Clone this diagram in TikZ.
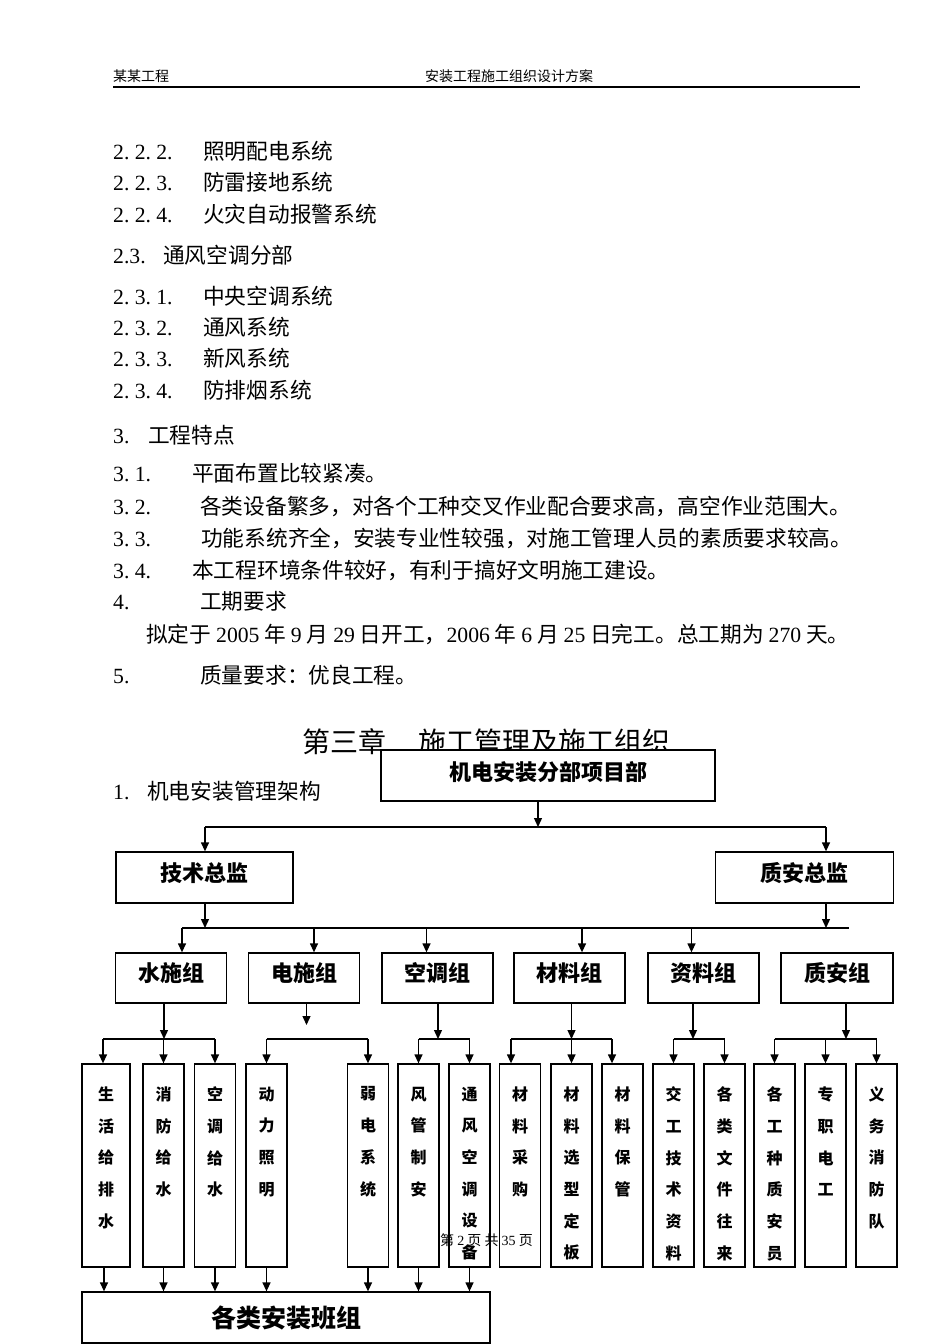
\documentclass[tikz,border=0pt]{standalone}
\usepackage{fontspec}
\setmainfont{Liberation Serif}
\newfontfamily\cjk{Noto Sans CJK SC}
\usetikzlibrary{arrows.meta}

\newcommand{\lnum}[1]{{\rmfamily #1}}
\newcommand{\secno}[1]{{\rmfamily\secnoloop#1\relax}}
\def\secnoloop#1{\ifx#1\relax\else\makebox[10.8pt][l]{#1}\expandafter\secnoloop\fi}
\newcommand{\vcol}[2][41pt]{\parbox[t][203pt][t]{#1}{\vspace*{22.8pt}\centering #2}}

\begin{document}
\begin{tikzpicture}[
      x=1pt, y=-1pt,
      txt/.style={anchor=west, inner sep=0,
                  font=\cjk\fontsize{21.7}{26}\selectfont},
      small/.style={anchor=west, inner sep=0,
                  font=\cjk\fontsize{14}{16}\selectfont},
      box/.style={draw, fill=white, line width=1.3pt, inner sep=0,
                  font=\cjk\bfseries\fontsize{22}{26}\selectfont},
      lead/.style={box, minimum width=177, minimum height=51, text depth=11.5pt},
      grp/.style={box, minimum width=111, minimum height=50, text depth=11.5pt},
      col/.style={draw, fill=white, line width=1.3pt, inner sep=0,
                  font=\cjk\bfseries\fontsize{16}{31.7}\selectfont},
      link/.style={line width=1.3pt},
      arr/.style={link, -{Triangle[width=8pt,length=9pt]}}
    ]
    \useasboundingbox (0,0) rectangle (950,1344);

    % page header
    \node[small] (hdl) at (113,76) {某某工程};
    \node[small] (hdr) at (425,76) {安装工程施工组织设计方案};
    \draw[line width=1.6pt] (113,87) -- (860,87);

    % text of the page
    \node[txt] (l1) at (113,151) {\makebox[90pt][l]{\secno{2.2.2.}}照明配电系统};
    \node[txt] (l2) at (113,182) {\makebox[90pt][l]{\secno{2.2.3.}}防雷接地系统};
    \node[txt] (l3) at (113,214) {\makebox[90pt][l]{\secno{2.2.4.}}火灾自动报警系统};
    \node[txt] (l4) at (113,255) {\makebox[50pt][l]{\lnum{2.3.}}通风空调分部};
    \node[txt] (l5) at (113,296) {\makebox[90pt][l]{\secno{2.3.1.}}中央空调系统};
    \node[txt] (l6) at (113,327) {\makebox[90pt][l]{\secno{2.3.2.}}通风系统};
    \node[txt] (l7) at (113,358) {\makebox[90pt][l]{\secno{2.3.3.}}新风系统};
    \node[txt] (l8) at (113,390) {\makebox[90pt][l]{\secno{2.3.4.}}防排烟系统};
    \node[txt] (l9) at (113,435) {\makebox[35pt][l]{\secno{3.}}工程特点};
    \node[txt] (l10) at (113,473) {\makebox[79pt][l]{\secno{3.1.}}平面布置比较紧凑。};
    \node[txt] (l11) at (113,506) {\makebox[87pt][l]{\secno{3.2.}}各类设备繁多，对各个工种交叉作业配合要求高，高空作业范围大。};
    \node[txt] (l12) at (113,538) {\makebox[88pt][l]{\secno{3.3.}}功能系统齐全，安装专业性较强，对施工管理人员的素质要求较高。};
    \node[txt] (l13) at (113,570) {\makebox[79pt][l]{\secno{3.4.}}本工程环境条件较好，有利于搞好文明施工建设。};
    \node[txt] (l14) at (113,601) {\makebox[87pt][l]{\secno{4.}}工期要求};
    \node[txt] (l15) at (146,634) {拟定于 \lnum{2005} 年 \lnum{9} 月 \lnum{29} 日开工，\lnum{2006} 年 \lnum{6} 月 \lnum{25} 日完工。总工期为 \lnum{270} 天。};
    \node[txt] (l16) at (113,675) {\makebox[87pt][l]{\secno{5.}}质量要求：优良工程。};

    \node[txt, font=\cjk\fontsize{28}{32}\selectfont] (chap) at (302,742)
      {\makebox[116pt][l]{第三章}施工管理及施工组织};
    \node[txt] (sub) at (113,791) {\makebox[34pt][l]{\lnum{1.}}机电安装管理架构};

    % management chart
    \node[box, minimum width=334, minimum height=51, text depth=9.5pt] (xm) at (548,775.5) {机电安装分部项目部};
    \node[lead] (js) at (204.5,877.5) {技术总监};
    \node[lead, minimum width=178] (za) at (804.5,877.5) {质安总监};

    \coordinate (b1l) at (205,827);
    \coordinate (b1r) at (826,827);
    \coordinate (b2l) at (182,928);
    \coordinate (b2r) at (849,928);
    \draw[arr] ([xshift=-10pt]xm.south) -- ([xshift=-10pt]xm.south |- b1l);
    \draw[link] (b1l) -- (b1r);
    \draw[arr] (b1l) -- (b1l |- js.north);
    \draw[arr] (b1r) -- (b1r |- za.north);
    \draw[arr] (b1l |- js.south) -- (b1l |- b2l);
    \draw[arr] (b1r |- za.south) -- (b1r |- b2l);
    \draw[link] (b2l) -- (b2r);

    \node[grp] (gs) at (171,978) {水施组};
    \node[grp] (gd) at (304,978) {电施组};
    \node[grp] (gk) at (437.5,978) {空调组};
    \node[grp] (gc) at (569.5,978) {材料组};
    \node[grp] (gz) at (703.5,978) {资料组};
    \node[grp, minimum width=112] (gq) at (837,978) {质安组};
    \foreach \g/\dx in {gs/11, gd/10, gk/-11, gc/12.5, gz/-12}
      \draw[arr] ([xshift=\dx pt]\g.north |- b2l) -- ([xshift=\dx pt]\g.north);

    \node[col] (v1) at (106,1165.5) {\vcol[48pt]{生\\活\\给\\排\\水}};
    \node[col] (v2) at (163.5,1165.5) {\vcol{消\\防\\给\\水}};
    \node[col] (v3) at (215,1165.5) {\vcol{空\\调\\给\\水}};
    \node[col] (v4) at (266.5,1165.5) {\vcol{动\\力\\照\\明}};
    \node[col] (v5) at (368,1165.5) {\vcol{弱\\电\\系\\统}};
    \node[col] (v6) at (418.5,1165.5) {\vcol{风\\管\\制\\安}};
    \node[col] (v7) at (469.5,1165.5) {\vcol{通\\风\\空\\调\\设\\备}};
    \node[col] (v8) at (520,1165.5) {\vcol{材\\料\\采\\购}};
    \node[col] (v9) at (571.5,1165.5) {\vcol{材\\料\\选\\型\\定\\板}};
    \node[col] (v10) at (622.5,1165.5) {\vcol{材\\料\\保\\管}};
    \node[col] (v11) at (673.5,1165.5) {\vcol{交\\工\\技\\术\\资\\料}};
    \node[col] (v12) at (724.5,1165.5) {\vcol{各\\类\\文\\件\\往\\来}};
    \node[col] (v13) at (774.5,1165.5) {\vcol{各\\工\\种\\质\\安\\员}};
    \node[col] (v14) at (825.5,1165.5) {\vcol{专\\职\\电\\工}};
    \node[col] (v15) at (876.5,1165.5) {\vcol{义\\务\\消\\防\\队}};

    % sub buses under the groups
    \coordinate (sb1l) at (103,1039);   \coordinate (sb1r) at (215,1039);
    \coordinate (sb2l) at (266.5,1039); \coordinate (sb2r) at (368,1039);
    \coordinate (sb3l) at (418.5,1039); \coordinate (sb3r) at (469.5,1039);
    \coordinate (sb4l) at (511,1039);   \coordinate (sb4r) at (612,1039);
    \coordinate (sb5l) at (673.5,1039); \coordinate (sb5r) at (724.5,1039);
    \coordinate (sb6l) at (774.5,1039); \coordinate (sb6r) at (876.5,1039);
    \foreach \n in {1,...,6}
      \draw[link] (sb\n l) -- (sb\n r);
    \coordinate (gdend) at (306.5,1025);
    \draw[arr] ([xshift=-7pt]gs.south) -- ([xshift=-7pt]gs.south |- sb1l);
    \draw[arr] (gdend |- gd.south) -- (gdend);
    \draw[arr] ([xshift=0.5pt]gk.south) -- ([xshift=0.5pt]gk.south |- sb3l);
    \draw[arr] ([xshift=2pt]gc.south) -- ([xshift=2pt]gc.south |- sb4l);
    \draw[arr] ([xshift=-10.5pt]gz.south) -- ([xshift=-10.5pt]gz.south |- sb5l);
    \draw[arr] ([xshift=9pt]gq.south) -- ([xshift=9pt]gq.south |- sb6l);

    \foreach \v/\dx/\b in {v1/-3/sb1l, v2/0/sb1l, v3/0/sb1l, v4/0/sb2l, v5/0/sb2l,
        v6/0/sb3l, v7/0/sb3l, v8/-9/sb4l, v9/0/sb4l, v10/-10.5/sb4l,
        v11/0/sb5l, v12/0/sb5l, v13/0/sb6l, v14/0/sb6l, v15/0/sb6l}
      \draw[arr] ([xshift=\dx pt]\v.north |- \b) -- ([xshift=\dx pt]\v.north);

    \node[box, minimum width=408, minimum height=51,
          font=\cjk\bfseries\fontsize{25}{28}\selectfont] (ban) at (286,1317.5) {各类安装班组};
    \foreach \v/\dx in {v1/-2, v2/0, v3/0, v4/0, v5/0, v6/0, v7/0}
      \draw[arr] ([xshift=\dx pt]\v.south) -- ([xshift=\dx pt]\v.south |- ban.north);

    % page footer
    \node[small] (foot) at (440,1240) {第 \lnum{2} 页 共 \lnum{35} 页};
  \end{tikzpicture}
\end{document}
